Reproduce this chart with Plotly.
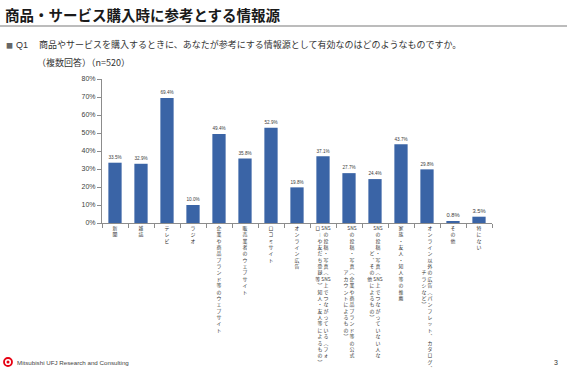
import re
import plotly.graph_objects as go

# ---------------- data ----------------
categories = [
    "新聞", "雑誌", "テレビ", "ラジオ",
    "企業や商品ブランド等のウェブサイト", "販売業者のウェブサイト", "口コミサイト", "オンライン広告",
    "SNSの投稿・写真（SNS上でつながっている（フォローや友だち登録等）知人・友人等によるもの）",
    "SNSの投稿・写真（企業や商品ブランド等の公式アカウントによるもの）",
    "SNSの投稿・写真（SNS上でつながっていない人など、その他によるもの）",
    "家族・友人・知人等の推薦",
    "オンライン以外の広告（パンフレット、カタログ、チラシなど）",
    "その他", "特にない",
]
values = [33.5, 32.9, 69.4, 10.0, 49.4, 35.8, 52.9, 19.8, 37.1, 27.7, 24.4, 43.7, 29.8, 0.8, 3.5]

# tick labels written vertically (first column = right column)
label_columns = [
    ["新聞"], ["雑誌"], ["テレビ"], ["ラジオ"],
    ["企業や商品ブランド等のウェブサイト"], ["販売業者のウェブサイト"], ["口コミサイト"], ["オンライン広告"],
    ["SNSの投稿・写真（SNS上でつながっている（フォ", "ローや友だち登録等）知人・友人等によるもの）"],
    ["SNSの投稿・写真（企業や商品ブランド等の公式", "アカウントによるもの）"],
    ["SNSの投稿・写真（SNS上でつながっていない人な", "ど、その他によるもの）"],
    ["家族・友人・知人等の推薦"],
    ["オンライン以外の広告（パンフレット、カタログ、", "チラシなど）"],
    ["その他"], ["特にない"],
]
y_tick_values = [0, 10, 20, 30, 40, 50, 60, 70, 80]
y_tick_labels = ["0%", "10%", "20%", "30%", "40%", "50%", "60%", "70%", "80%"]

title_text = "商品・サービス購入時に参考とする情報源"
question_text = "商品やサービスを購入するときに、あなたが参考にする情報源として有効なのはどのようなものですか。"
question_note = "（複数回答）（n=520）"
footer_text = "Mitsubishi UFJ Research and Consulting"
page_number = "3"

# ---------------- layout helpers ----------------
second_column_offset = [0, 0, 0, 0, 0, 0, 0, 0, 0, 7, 4, 0, 7, 0, 0]
VERT = {"（": "︵", "）": "︶", "、": "︑", "ー": "︱"}


def tokens(s):
    return [VERT.get(t, t) for t in re.findall(r"SNS|.", s)]


def vertical(cols, offset):
    c1 = tokens(cols[0])
    if len(cols) == 1:
        return "<br>".join(c1)
    c2 = [None] * offset + tokens(cols[1])
    n = max(len(c1), len(c2))
    lines = []
    for i in range(n):
        a = c2[i] if i < len(c2) and c2[i] else "\u3000"
        b = c1[i] if i < len(c1) else "\u3000"
        lines.append(a + "\u00a0" + b)
    return "<br>".join(lines)


tick_text = [vertical(c, o) for c, o in zip(label_columns, second_column_offset)]

W, H = 567, 374
L, R, T, B = 102, 75, 79, 151
PW, PH = W - L - R, H - T - B


def px(x):
    return (x - L) / PW


def py(y):
    return (H - B - y) / PH


JP = "Noto Sans CJK JP"
LAT = "Liberation Sans, Arial, sans-serif"

fig = go.Figure()
fig.add_trace(go.Bar(
    x=categories, y=values,
    marker=dict(color="#3A64A6", line=dict(width=0)),
    text=[f"{v:.1f}%" for v in values],
    textposition="outside",
    textfont=dict(family=LAT, size=7, color="#404040"),
    cliponaxis=False,
    hoverinfo="skip",
))

fig.update_layout(
    width=W, height=H,
    margin=dict(l=L, r=R, t=T, b=B, pad=0, autoexpand=False),
    paper_bgcolor="white", plot_bgcolor="white",
    bargap=0.49,
    showlegend=False,
    xaxis=dict(
        type="category", automargin=False,
        tickmode="array", tickvals=categories, ticktext=tick_text,
        tickangle=0,
        tickfont=dict(family=JP, size=4.9, color="#333333"),
        showline=True, linecolor="#8c8c8c", linewidth=1,
        ticks="outside", ticklen=4, tickcolor="#8c8c8c", tickson="boundaries",
        showgrid=False, zeroline=False,
    ),
    yaxis=dict(
        range=[0, 80], automargin=False,
        tickmode="array", tickvals=y_tick_values, ticktext=y_tick_labels,
        tickfont=dict(family=LAT, size=7, color="#404040"),
        showline=True, linecolor="#8c8c8c", linewidth=1,
        ticks="outside", ticklen=4, tickcolor="#8c8c8c",
        showgrid=False, zeroline=False,
    ),
)

ann = []
ann.append(dict(text="<b>" + title_text + "</b>", x=px(3), y=py(14), xanchor="left", yanchor="middle",
                font=dict(family=JP, size=14.5, color="#1a1a1a")))
ann.append(dict(text="■", x=px(4), y=py(45), xanchor="left", yanchor="middle",
                font=dict(family=JP, size=7, color="#666666")))
ann.append(dict(text="Q1", x=px(14), y=py(45), xanchor="left", yanchor="middle",
                font=dict(family=LAT, size=9, color="#333333")))
ann.append(dict(text=question_text, x=px(37), y=py(45), xanchor="left", yanchor="middle",
                font=dict(family=JP, size=9, color="#333333")))
ann.append(dict(text=question_note, x=px(35), y=py(62), xanchor="left", yanchor="middle",
                font=dict(family=JP, size=9, color="#333333")))
ann.append(dict(text=footer_text, x=px(15), y=py(362), xanchor="left", yanchor="middle",
                font=dict(family=LAT, size=6.2, color="#444444")))
ann.append(dict(text=page_number, x=px(556), y=py(362), xanchor="center", yanchor="middle",
                font=dict(family=LAT, size=7, color="#333333")))
for a in ann:
    a.update(xref="paper", yref="paper", showarrow=False)
fig.update_layout(annotations=ann)

fig.add_shape(type="line", xref="paper", yref="paper", x0=px(0), x1=px(567), y0=py(26), y1=py(26),
              line=dict(color="#a6a6a6", width=1.5))
fig.add_shape(type="circle", xref="paper", yref="paper", x0=px(4), x1=px(12), y0=py(366), y1=py(358),
              line=dict(color="#e60012", width=1.8), fillcolor="white")
fig.add_shape(type="circle", xref="paper", yref="paper", x0=px(6.5), x1=px(9.5), y0=py(363.5), y1=py(360.5),
              line=dict(width=0), fillcolor="#e60012")

fig.write_html("out.html", config={"displayModeBar": False},
               post_script="document.body.style.margin='0px';document.body.style.overflow='hidden';")
